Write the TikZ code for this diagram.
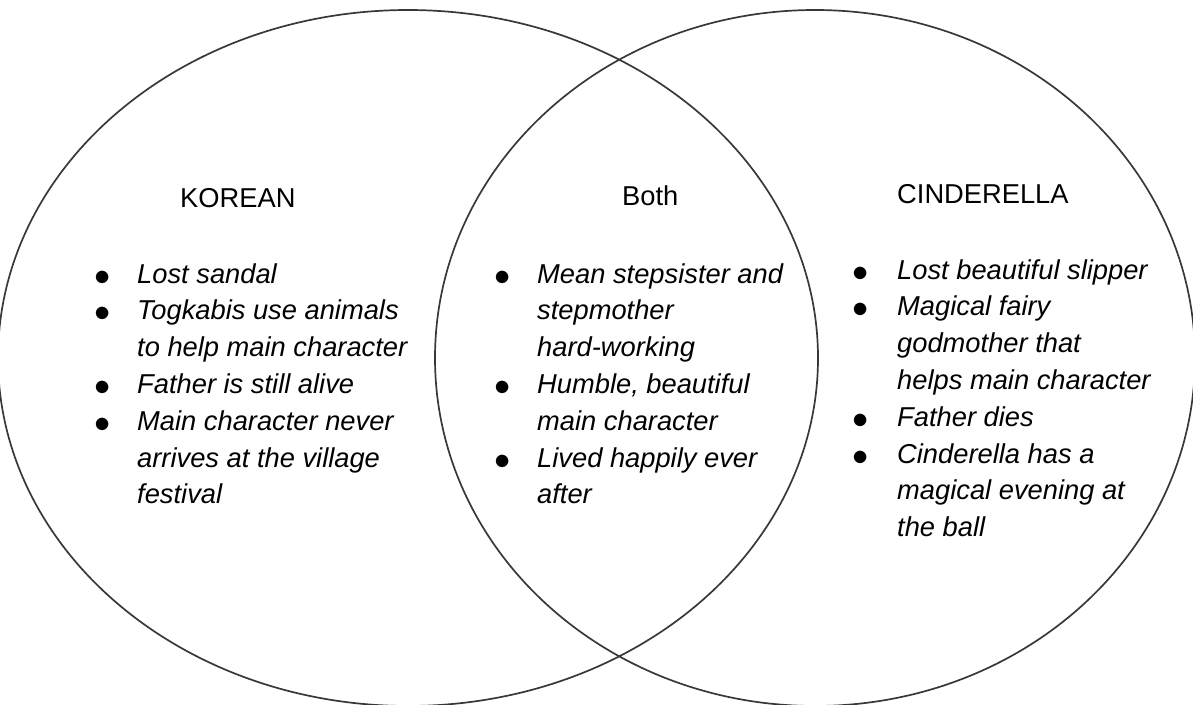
\documentclass[tikz,border=0pt]{standalone}
\usepackage{fontspec}
\setmainfont{Liberation Sans}
\newcommand{\bul}{\raisebox{-2pt}{\scalebox{1.3}{$\bullet$}}}
\begin{document}
\begin{tikzpicture}[x=1pt,y=-1pt,
  ring/.style={draw=black!78, line width=1.7pt},
  head/.style={anchor=base west, inner sep=0pt, font=\fontsize{27.3}{36.8}\selectfont},
  lst/.style={anchor=base west, inner sep=0pt, font=\fontsize{27.3}{36.8}\selectfont\itshape, align=left}]
\useasboundingbox (0,0) rectangle (1193,704);
\draw[ring] (408,358) ellipse [x radius=410, y radius=348];
\draw[ring] (815,358) ellipse [x radius=380, y radius=348];
\node[head] (korean) at (180,207) {KOREAN};
\node[head] (both) at (622,205) {Both};
\node[head] (cind) at (897,203) {CINDERELLA};
\node[lst] (klist) at (94,283) {\begin{tabular}[t]{@{}p{43pt}@{}l@{}}
\bul & Lost sandal\\
\bul & Togkabis use animals\\
 & to help main character\\
\bul & Father is still alive\\
\bul & Main character never\\
 & arrives at the village\\
 & festival
\end{tabular}};
\node[lst] (blist) at (494,283) {\begin{tabular}[t]{@{}p{43pt}@{}l@{}}
\bul & Mean stepsister and\\
 & stepmother\\
 & hard-working\\
\bul & Humble, beautiful\\
 & main character\\
\bul & Lived happily ever\\
 & after
\end{tabular}};
\node[lst] (clist) at (852,279) {\begin{tabular}[t]{@{}p{45pt}@{}l@{}}
\bul & Lost beautiful slipper\\
\bul & Magical fairy\\
 & godmother that\\
 & helps main character\\
\bul & Father dies\\
\bul & Cinderella has a\\
 & magical evening at\\
 & the ball
\end{tabular}};
\end{tikzpicture}
\end{document}
